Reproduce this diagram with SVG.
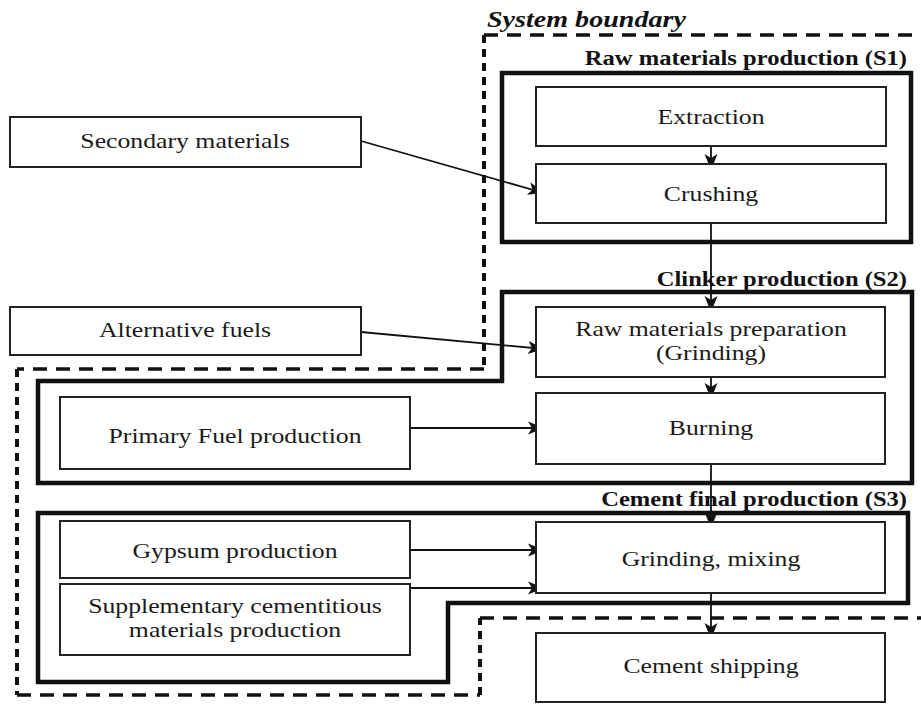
<svg xmlns="http://www.w3.org/2000/svg" width="921" height="704" viewBox="0 0 921 704">
<defs>
<marker id="ah" markerUnits="userSpaceOnUse" markerWidth="18" markerHeight="14" refX="16" refY="7" orient="auto">
<path d="M0,0.5 L16,7 L0,13.5 L4,7 z" fill="#111"/>
</marker>
<style>
.box{fill:#fff;stroke:#222;stroke-width:2}
.stage{fill:none;stroke:#111;stroke-width:4.5}
.dh{fill:none;stroke:#111;stroke-width:3.5;stroke-dasharray:14 9}
.dv{fill:none;stroke:#111;stroke-width:4;stroke-dasharray:8 6}
.t{font-family:"Liberation Serif","Times New Roman",serif;font-size:22px;fill:#1a1a1a;text-anchor:middle}
.lab{font-family:"Liberation Serif","Times New Roman",serif;font-size:21px;font-weight:bold;fill:#111;text-anchor:end}
.sys{font-family:"Liberation Serif","Times New Roman",serif;font-size:24px;font-weight:bold;font-style:italic;fill:#111}
.c{fill:none;stroke:#111;stroke-width:1.8}
</style>
</defs>
<rect width="921" height="704" fill="#fff"/>

<g id="system-boundary">
<path class="dh" d="M484,35 H921"/>
<path class="dv" d="M484,35 V369"/>
<path class="dh" d="M484,369 H17"/>
<path class="dv" d="M17,369 V695"/>
<path class="dh" d="M17,695 H480"/>
<path class="dv" d="M480,695 V618"/>
<path class="dh" d="M480,618 H921"/>
<text class="sys" transform="translate(487,27) scale(1.17,1)">System boundary</text>
</g>

<g id="stage-s1">
<rect class="stage" x="502" y="73" width="409" height="169"/>
<text class="lab" transform="translate(907,65) scale(1.17,1)">Raw materials production (S1)</text>
</g>
<g id="stage-s2">
<path class="stage" d="M502,292 H912 V483 H38 V381 H502 Z"/>
<text class="lab" transform="translate(907,286) scale(1.17,1)">Clinker production (S2)</text>
</g>
<g id="stage-s3">
<path class="stage" d="M38,513 H908 V603 H448 V682 H38 Z"/>
<text class="lab" transform="translate(907,506) scale(1.17,1)">Cement final production (S3)</text>
</g>

<g id="connectors">
<path class="c" d="M711,146 V170" marker-end="url(#ah)"/>
<path class="c" d="M711,223 V312" marker-end="url(#ah)"/>
<path class="c" d="M711,377 V399" marker-end="url(#ah)"/>
<path class="c" d="M711,464 V528" marker-end="url(#ah)"/>
<path class="c" d="M711,593 V639" marker-end="url(#ah)"/>
<path class="c" d="M361,141 L544,193" marker-end="url(#ah)"/>
<path class="c" d="M361,332 L544,349" marker-end="url(#ah)"/>
<path class="c" d="M410,428 H544" marker-end="url(#ah)"/>
<path class="c" d="M410,550 H544" marker-end="url(#ah)"/>
<path class="c" d="M410,588 H544" marker-end="url(#ah)"/>
</g>

<g id="extraction">
<rect class="box" x="536" y="87" width="350" height="59"/>
<text class="t" transform="translate(711,124) scale(1.17,1)">Extraction</text>
</g>
<g id="crushing">
<rect class="box" x="536" y="164" width="350" height="59"/>
<text class="t" transform="translate(711,201) scale(1.17,1)">Crushing</text>
</g>
<g id="secondary-materials">
<rect class="box" x="10" y="117" width="351" height="50"/>
<text class="t" transform="translate(185,148) scale(1.17,1)">Secondary materials</text>
</g>
<g id="alternative-fuels">
<rect class="box" x="10" y="307" width="351" height="48"/>
<text class="t" transform="translate(185,337) scale(1.17,1)">Alternative fuels</text>
</g>
<g id="raw-materials-preparation">
<rect class="box" x="536" y="307" width="349" height="70"/>
<text class="t" transform="translate(711,336) scale(1.17,1)">Raw materials preparation</text>
<text class="t" transform="translate(711,360) scale(1.17,1)">(Grinding)</text>
</g>
<g id="burning">
<rect class="box" x="536" y="393" width="349" height="71"/>
<text class="t" transform="translate(711,435) scale(1.17,1)">Burning</text>
</g>
<g id="primary-fuel-production">
<rect class="box" x="60" y="397" width="350" height="72"/>
<text class="t" transform="translate(235,443) scale(1.17,1)">Primary Fuel production</text>
</g>
<g id="grinding-mixing">
<rect class="box" x="536" y="522" width="349" height="71"/>
<text class="t" transform="translate(711,566) scale(1.17,1)">Grinding, mixing</text>
</g>
<g id="gypsum-production">
<rect class="box" x="60" y="521" width="350" height="57"/>
<text class="t" transform="translate(235,558) scale(1.17,1)">Gypsum production</text>
</g>
<g id="supplementary-cementitious">
<rect class="box" x="60" y="584" width="350" height="71"/>
<text class="t" transform="translate(235,613) scale(1.17,1)">Supplementary cementitious</text>
<text class="t" transform="translate(235,637) scale(1.17,1)">materials production</text>
</g>
<g id="cement-shipping">
<rect class="box" x="536" y="633" width="349" height="69"/>
<text class="t" transform="translate(711,673) scale(1.17,1)">Cement shipping</text>
</g>
</svg>
